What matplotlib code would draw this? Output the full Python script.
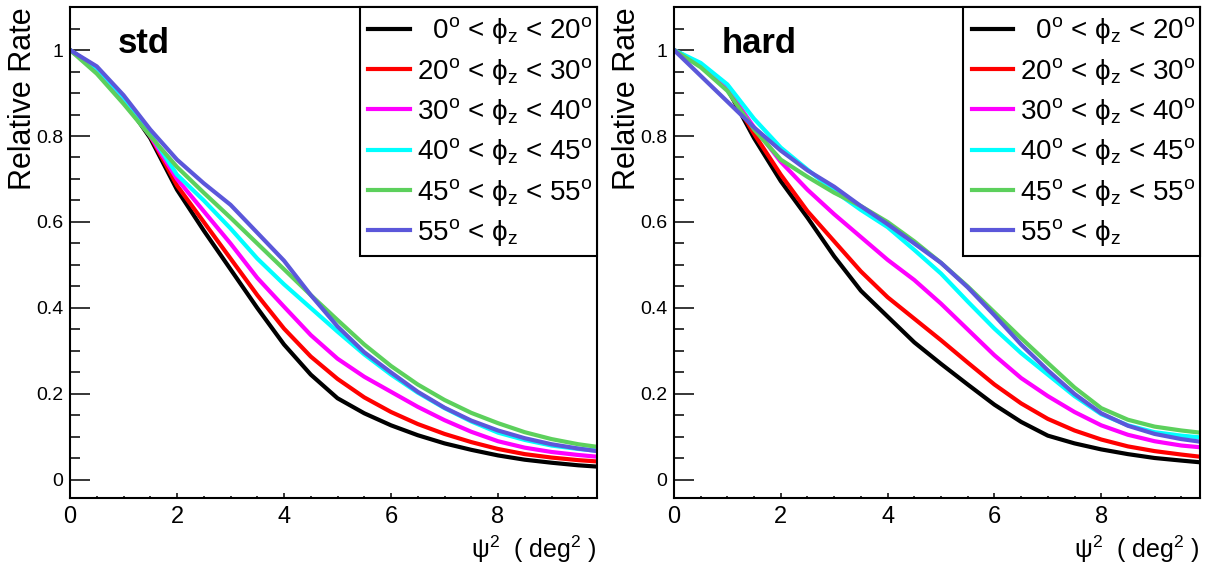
import numpy as np
import matplotlib
matplotlib.use("Agg")
import matplotlib.pyplot as plt
from matplotlib.ticker import MultipleLocator, FormatStrFormatter

plt.rcParams['font.family'] = ['Liberation Sans', 'DejaVu Sans']
plt.rcParams['mathtext.fontset'] = 'custom'
plt.rcParams['mathtext.rm'] = 'Liberation Sans'
plt.rcParams['mathtext.it'] = 'Liberation Sans:italic'
plt.rcParams['mathtext.bf'] = 'Liberation Sans:bold'
plt.rcParams['mathtext.fallback'] = 'stixsans'

# psi^2 sample points (deg^2)
psi2 = [0, 0.5, 1, 1.5, 2, 2.5, 3, 3.5, 4, 4.5, 5, 5.5, 6, 6.5, 7, 7.5, 8, 8.5, 9, 9.5, 9.85]

labels = ['  0$^{\\mathrm{o}}$ < ϕ$_{\\mathrm{z}}$ < 20$^{\\mathrm{o}}$',
          '20$^{\\mathrm{o}}$ < ϕ$_{\\mathrm{z}}$ < 30$^{\\mathrm{o}}$',
          '30$^{\\mathrm{o}}$ < ϕ$_{\\mathrm{z}}$ < 40$^{\\mathrm{o}}$',
          '40$^{\\mathrm{o}}$ < ϕ$_{\\mathrm{z}}$ < 45$^{\\mathrm{o}}$',
          '45$^{\\mathrm{o}}$ < ϕ$_{\\mathrm{z}}$ < 55$^{\\mathrm{o}}$',
          '55$^{\\mathrm{o}}$ < ϕ$_{\\mathrm{z}}$']
colors = ['#000000', '#ff0000', '#ff00ff', '#00ffff', '#5cd05c', '#5b57da']

# "std" panel
std_0_20 = [1.0, 0.955, 0.885, 0.795, 0.675, 0.58, 0.49, 0.4, 0.315, 0.245, 0.19,
            0.155, 0.127, 0.104, 0.085, 0.07, 0.057, 0.047, 0.04, 0.034, 0.031]
std_20_30 = [1.0, 0.955, 0.885, 0.80, 0.685, 0.60, 0.515, 0.43, 0.352, 0.287, 0.235,
             0.192, 0.158, 0.13, 0.107, 0.088, 0.072, 0.06, 0.052, 0.046, 0.043]
std_30_40 = [1.0, 0.955, 0.885, 0.80, 0.70, 0.625, 0.55, 0.47, 0.403, 0.337, 0.282,
             0.24, 0.205, 0.17, 0.139, 0.112, 0.09, 0.075, 0.065, 0.058, 0.054]
std_40_45 = [1.0, 0.958, 0.89, 0.805, 0.71, 0.65, 0.585, 0.515, 0.455, 0.40, 0.345,
             0.292, 0.245, 0.203, 0.167, 0.136, 0.11, 0.093, 0.08, 0.072, 0.068]
std_45_55 = [1.0, 0.945, 0.875, 0.80, 0.728, 0.668, 0.61, 0.55, 0.49, 0.43, 0.372,
             0.315, 0.265, 0.222, 0.186, 0.156, 0.132, 0.111, 0.095, 0.083, 0.077]
std_55 = [1.0, 0.962, 0.895, 0.815, 0.745, 0.69, 0.64, 0.575, 0.51, 0.43, 0.357,
          0.297, 0.25, 0.205, 0.168, 0.138, 0.115, 0.097, 0.083, 0.073, 0.067]

# "hard" panel
hard_0_20 = [1.0, 0.965, 0.91, 0.795, 0.695, 0.61, 0.52, 0.44, 0.38, 0.32, 0.27,
             0.222, 0.175, 0.135, 0.103, 0.085, 0.071, 0.06, 0.051, 0.045, 0.041]
hard_20_30 = [1.0, 0.965, 0.91, 0.805, 0.71, 0.625, 0.555, 0.485, 0.425, 0.375, 0.325,
              0.273, 0.222, 0.178, 0.142, 0.115, 0.094, 0.078, 0.067, 0.059, 0.054]
hard_30_40 = [1.0, 0.965, 0.91, 0.82, 0.74, 0.675, 0.618, 0.565, 0.512, 0.465, 0.41,
              0.35, 0.29, 0.237, 0.195, 0.158, 0.127, 0.105, 0.09, 0.08, 0.076]
hard_40_45 = [1.0, 0.97, 0.92, 0.84, 0.773, 0.722, 0.672, 0.628, 0.588, 0.535, 0.48,
              0.415, 0.352, 0.295, 0.245, 0.195, 0.153, 0.127, 0.111, 0.103, 0.099]
hard_45_55 = [1.0, 0.96, 0.905, 0.815, 0.745, 0.705, 0.668, 0.637, 0.60, 0.555, 0.505,
              0.45, 0.39, 0.33, 0.272, 0.215, 0.167, 0.14, 0.124, 0.115, 0.11]
hard_55 = [1.0, 0.94, 0.88, 0.82, 0.766, 0.72, 0.682, 0.637, 0.595, 0.55, 0.505,
           0.448, 0.383, 0.315, 0.255, 0.2, 0.155, 0.126, 0.107, 0.095, 0.089]

panels = [('std', [std_0_20, std_20_30, std_30_40, std_40_45, std_45_55, std_55]),
          ('hard', [hard_0_20, hard_20_30, hard_30_40, hard_40_45, hard_45_55, hard_55])]

fig = plt.figure(figsize=(12.07, 5.63), dpi=100)
axes = [fig.add_axes([0.058, 0.1155, 0.4366, 0.872]),
        fig.add_axes([0.5584, 0.1155, 0.4358, 0.872])]

for ax, (name, curves) in zip(axes, panels):
    for y, c, lab in zip(curves, colors, labels):
        ax.plot(psi2, y, color=c, lw=3, label=lab, solid_joinstyle='round')
    ax.set_xlim(0, 9.85)
    ax.set_ylim(-0.042, 1.1)
    ax.xaxis.set_major_locator(MultipleLocator(2))
    ax.xaxis.set_minor_locator(MultipleLocator(0.5))
    ax.yaxis.set_major_locator(MultipleLocator(0.2))
    ax.yaxis.set_minor_locator(MultipleLocator(0.05))
    ax.yaxis.set_major_formatter(FormatStrFormatter('%g'))
    ax.tick_params(axis='x', which='major', direction='in', length=3.6, width=1.1,
                   labelsize=17, pad=6)
    ax.tick_params(axis='x', which='minor', direction='in', length=1.8, width=1.1)
    ax.tick_params(axis='y', which='major', direction='in', length=14.4, width=1.1,
                   labelsize=14, pad=5)
    ax.tick_params(axis='y', which='minor', direction='in', length=7.2, width=1.1)
    for s in ax.spines.values():
        s.set_linewidth(1.5)
    ax.set_ylabel('Relative Rate', fontsize=22, loc='top')
    ax.yaxis.set_label_coords(-0.06, 1.0)
    ax.set_xlabel('ψ$^{2}$  ( deg$^{2}$ )', fontsize=18, loc='right')
    ax.text(0.091, 0.906, name, transform=ax.transAxes, fontsize=25,
            fontweight='bold', va='baseline')
    leg = ax.legend(loc='upper left', bbox_to_anchor=(0.55, 1.0, 0.45, 0.0),
                    mode='expand', borderaxespad=0, fontsize=20, frameon=True,
                    fancybox=False, edgecolor='black', framealpha=1,
                    handlelength=1.5, handletextpad=0.25, labelspacing=0.335,
                    borderpad=0.3)
    leg.get_frame().set_linewidth(1.5)

fig.savefig('out.png', dpi=100, facecolor='white')
